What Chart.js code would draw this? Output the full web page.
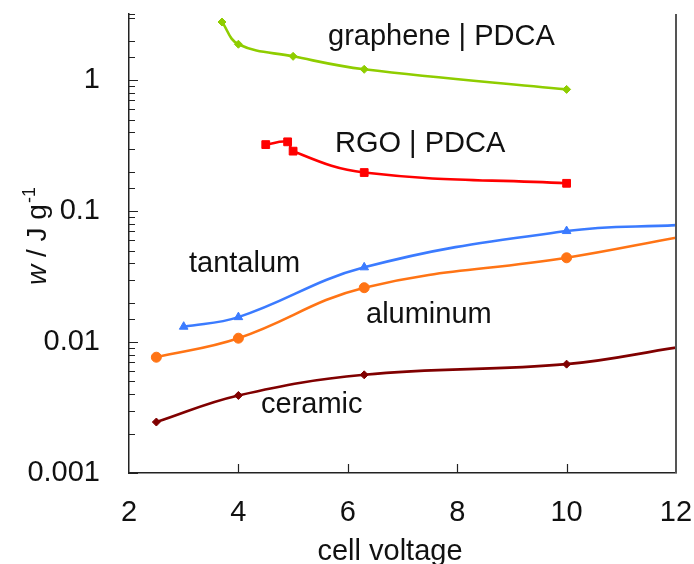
<!DOCTYPE html>
<html><head><meta charset="utf-8">
<script src="https://cdn.jsdelivr.net/npm/chart.js@4.4.0/dist/chart.umd.min.js"></script>
<style>html,body{margin:0;padding:0;background:#fff;overflow:hidden}</style>
</head><body>
<canvas id="c" width="694" height="564"></canvas>
<script>
const FONT = "'Liberation Sans', Arial, Helvetica, sans-serif";

// ---- data (cell voltage in V, w in J/g) ----
const grapheneV = [3.7, 4, 5, 6.3, 10];
const grapheneW = [2.78, 1.88, 1.52, 1.21, 0.85];
const rgoV = [4.5, 4.9, 5, 6.3, 10];
const rgoW = [0.322, 0.338, 0.287, 0.197, 0.163];
const tantalumV = [3, 4, 6.3, 10, 12];
const tantalumW = [0.0131, 0.0155, 0.0372, 0.0704, 0.0782];
const aluminumV = [2.5, 4, 6.3, 10, 12];
const aluminumW = [0.00766, 0.0107, 0.026, 0.044, 0.0626];
const ceramicV = [2.5, 4, 6.3, 10, 12];
const ceramicW = [0.00245, 0.00391, 0.00562, 0.00678, 0.00907];

const seriesNames = ['graphene | PDCA', 'RGO | PDCA', 'tantalum', 'aluminum', 'ceramic'];
const xTickValues = [2, 4, 6, 8, 10, 12];
const yTickValues = [0.001, 0.01, 0.1, 1];
const yTickLabels = ['0.001', '0.01', '0.1', '1'];
const xTitle = 'cell voltage';

const pts = (xs, ys) => xs.map((v, i) => ({x: v, y: ys[i]}));
const radii = (xs, r) => xs.map(v => (v >= 12 ? 0 : r));

function ds(name, xs, ys, color, style, r) {
  return {
    label: name, data: pts(xs, ys),
    borderColor: color, backgroundColor: color,
    borderWidth: 2.6, pointStyle: style,
    pointRadius: radii(xs, r), pointBorderWidth: 1,
    tension: 0.4, fill: false
  };
}

const labelPos = [
  {t: seriesNames[0], x: 328, y: 45},
  {t: seriesNames[1], x: 335, y: 152},
  {t: seriesNames[2], x: 189, y: 272},
  {t: seriesNames[3], x: 366, y: 323},
  {t: seriesNames[4], x: 261, y: 413}
];

const decor = {
  id: 'decor',
  afterDraw(chart) {
    const {ctx, chartArea: a, scales: {x, y}} = chart;
    ctx.save();
    // right frame line
    ctx.strokeStyle = '#555'; ctx.lineWidth = 2;
    ctx.beginPath(); ctx.moveTo(a.right, a.top); ctx.lineTo(a.right, a.bottom); ctx.stroke();
    // inward ticks
    ctx.strokeStyle = '#222'; ctx.lineWidth = 1.2;
    ctx.beginPath();
    y.ticks.forEach(t => {
      const p = Math.round(y.getPixelForValue(t.value)) + 0.5;
      const major = yTickValues.some(v => Math.abs(v - t.value) / v < 1e-6);
      ctx.moveTo(a.left, p); ctx.lineTo(a.left + (major ? 9 : 6), p);
    });
    x.ticks.forEach(t => {
      if (t.value <= x.min || t.value >= x.max) return;
      const p = Math.round(x.getPixelForValue(t.value)) + 0.5;
      ctx.moveTo(p, a.bottom); ctx.lineTo(p, a.bottom - 9);
    });
    ctx.stroke();
    // series labels
    ctx.fillStyle = '#111';
    ctx.font = '29px ' + FONT;
    ctx.textAlign = 'left'; ctx.textBaseline = 'alphabetic';
    labelPos.forEach(l => ctx.fillText(l.t, l.x, l.y));
    // x title
    ctx.textAlign = 'center';
    ctx.fillText(xTitle, 390, 560);
    // y title (rotated): w / J g^-1
    ctx.translate(46, 285);
    ctx.rotate(-Math.PI / 2);
    ctx.textAlign = 'left';
    let cx = 0;
    ctx.font = 'italic 28px ' + FONT;
    ctx.fillText('w', cx, 0); cx += ctx.measureText('w').width;
    ctx.font = '28px ' + FONT;
    const mid = ' / J g';
    ctx.fillText(mid, cx, 0); cx += ctx.measureText(mid).width;
    ctx.font = '18px ' + FONT;
    ctx.fillText('-1', cx + 1, -11);
    ctx.restore();
  }
};

function noPad(s) { s.paddingTop = 0; s.paddingBottom = 0; s.paddingLeft = 0; s.paddingRight = 0; }

new Chart(document.getElementById('c'), {
  type: 'line',
  data: {
    datasets: [
      ds(seriesNames[0], grapheneV, grapheneW, '#8fcd00', 'rectRot', 4),
      ds(seriesNames[1], rgoV, rgoW, '#ff0000', 'rect', 5.5),
      ds(seriesNames[2], tantalumV, tantalumW, '#3b7bff', 'triangle', 5),
      ds(seriesNames[3], aluminumV, aluminumW, '#ff7415', 'circle', 5),
      ds(seriesNames[4], ceramicV, ceramicW, '#800000', 'rectRot', 4)
    ]
  },
  options: {
    responsive: false, animation: false,
    layout: {padding: {top: 14, right: 18, left: 0, bottom: 0}},
    plugins: {legend: {display: false}, tooltip: {enabled: false}},
    scales: {
      x: {
        type: 'linear', min: 2, max: 12,
        grid: {display: false},
        border: {display: true, color: '#222', width: 1.5},
        ticks: {
          stepSize: 2, padding: 15, color: '#111', font: {family: FONT, size: 29},
          maxRotation: 0, autoSkip: false,
          callback: v => (xTickValues.includes(v) ? String(v) : '')
        },
        afterFit: s => { s.height = 91; noPad(s); }
      },
      y: {
        type: 'logarithmic', min: 0.001, max: 3.2,
        grid: {display: false},
        border: {display: true, color: '#222', width: 1.5},
        ticks: {
          padding: 21, color: '#111', font: {family: FONT, size: 29}, autoSkip: false,
          callback: v => {
            const i = yTickValues.findIndex(t => Math.abs(t - v) / t < 1e-6);
            return i >= 0 ? yTickLabels[i] : '';
          }
        },
        afterFit: s => { s.width = 129; noPad(s); }
      }
    }
  },
  plugins: [decor]
});
</script>
</body></html>
